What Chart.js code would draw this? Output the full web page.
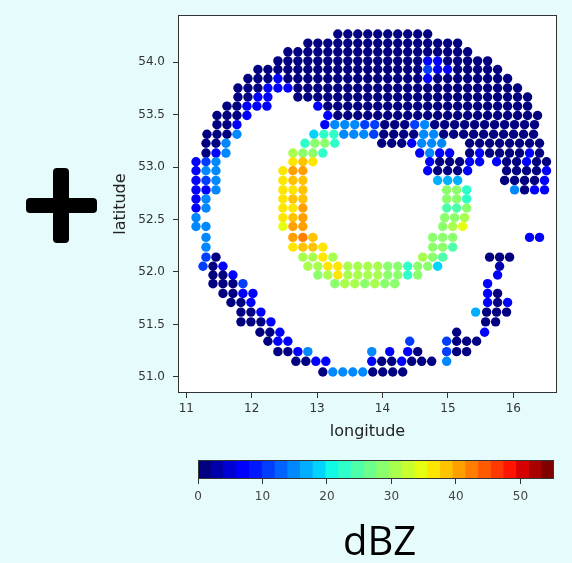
<!DOCTYPE html>
<html>
<head>
<meta charset="utf-8">
<script src="https://cdn.jsdelivr.net/npm/chart.js@4/dist/chart.umd.min.js"></script>
<style>
  html, body { margin: 0; padding: 0; }
  body { width: 572px; height: 563px; background: #e6fbfb; position: relative; overflow: hidden; font-family: "DejaVu Sans", sans-serif; }
  #map { position: absolute; left: 0; top: 0; }
  #bar { position: absolute; left: 150px; top: 450px; }
  .plus { position: absolute; background: #000; border-radius: 4px; }
  #unit { position: absolute; left: 343px; top: 516px; font: 40px "Open Sans", sans-serif; color: #000; line-height: 48px; }
</style>
</head>
<body>
<div class="plus" style="left:53px;top:168px;width:16px;height:75px"></div>
<div class="plus" style="left:26px;top:198px;width:71px;height:15px"></div>
<canvas id="map" width="572" height="563"></canvas>
<canvas id="bar" width="420" height="70"></canvas>
<div id="unit">dBZ</div>
<script>
// axis ticks
const lonTicks = [11, 12, 13, 14, 15, 16];
const latTicks = [51.0, 51.5, 52.0, 52.5, 53.0, 53.5, 54.0];
const barTicks = [0, 10, 20, 30, 40, 50];

// radar grid: longitude of column 0 and column step, latitude of each row (top to bottom)
const lon0 = 11.026;
const lonStep = 0.1527;
const rowLats = [54.268, 54.181, 54.098, 54.012, 53.929, 53.843, 53.753, 53.667, 53.580, 53.491,
                 53.404, 53.312, 53.226, 53.133, 53.050, 52.964, 52.872, 52.782, 52.696, 52.609,
                 52.517, 52.433, 52.329, 52.236, 52.141, 52.054, 51.971, 51.888, 51.795, 51.709,
                 51.617, 51.524, 51.425, 51.339, 51.240, 51.148, 51.046];

// reflectivity (dBZ) of each letter used below
const codeDbz = { a: 1, b: 3, c: 6, d: 10, e: 14, f: 16, g: 19, h: 22, i: 25, j: 28, k: 31, l: 34, m: 36, n: 38, o: 40, p: 43 };

// each row: [first column, one letter per cell]
const rowCells = [
  [[15, 'aaaaaaaaaa']],
  [[12, 'aaaaaaaaaaaaaaaa']],
  [[10, 'aaaaaaaaaaaaaaaaaaa']],
  [[9, 'aaaaaaaaaaaaaaaccaaaaa']],
  [[7, 'aaaaaaaaaaaaaaaaadccaaaaa']],
  [[6, 'aaacaaaaaaaaaaaaaacaaaaaaaa']],
  [[5, 'aaacccaaaaaaaaaaaaaaaaaaaaaaa']],
  [[5, 'aacc'], [11, 'aaaaaaaaaaaaaaaaaaaaaaaa']],
  [[3.9, 'aaccc'], [13, 'caaaaaaaaaaaaaaaaaaaaa']],
  [[2.9, 'aaac'], [14, 'caaaaaaaaaaaaaaaaaaaaa']],
  [[2.9, 'aac'], [13.7, 'ceeedd'], [19.7, 'aaadeaaaaaaaaaaa']],
  [[1.9, 'aaae'], [12.6, 'ghheee'], [18.6, 'daaaaeeaaaaaaaaaa']],
  [[1.8, 'aae'], [11.7, 'hjjh'], [19.4, 'aaaceee'], [28.2, 'aaaaaaaa']],
  [[1.8, 'ace'], [10.5, 'kjjh'], [23.2, 'cecc'], [28.2, 'acaaaaca']],
  [[0.8, 'cde'], [10.5, 'mnm'], [24.2, 'caaacc'], [30.9, 'caacaa']],
  [[0.8, 'cee'], [9.5, 'moo'], [24, 'caaac'], [31.9, 'aaaac']],
  [[0.8, 'cde'], [9.5, 'mnn'], [25, 'fff'], [31.7, 'aaaac']],
  [[0.8, 'cce'], [9.5, 'mmn'], [25.9, 'jjh'], [32.7, 'eacc']],
  [[0.8, 'ce'], [9.5, 'mnn'], [25.9, 'jjh']],
  [[0.8, 'ce'], [9.5, 'mmo'], [25.9, 'iij']],
  [[0.8, 'e'], [9.5, 'mno'], [25.7, 'jjk']],
  [[0.8, 'ee'], [9.5, 'loo'], [25.5, 'jkl']],
  [[1.8, 'e'], [10.5, 'opn'], [24.5, 'jjj'], [34.2, 'cc']],
  [[1.8, 'e'], [10.5, 'mnnm'], [24.5, 'jji']],
  [[1.8, 'da'], [11.5, 'kkmk'], [23.5, 'kji'], [30.2, 'aaa']],
  [[1.5, 'dac'], [12, 'kkmmkkkkjjhjjg'], [31.2, 'b']],
  [[2.5, 'aac'], [13, 'jkmkkkkjjhj'], [31, 'c']],
  [[2.5, 'aaad'], [14.7, 'jkkjkjj'], [30, 'c']],
  [[3.5, 'aacc'], [30, 'ca']],
  [[4.3, 'aac'], [30, 'cac']],
  [[5.3, 'aac'], [28.8, 'f'], [29.9, 'aaa']],
  [[5.3, 'aaac'], [29.8, 'aa']],
  [[7.2, 'aac'], [26.9, 'a'], [29.7, 'c']],
  [[8, 'acc'], [22.2, 'd'], [25.9, 'daaa']],
  [[9, 'aace'], [18.4, 'e'], [20.2, 'c'], [22, 'ca'], [25.9, 'daa']],
  [[10.8, 'aacc'], [18.4, 'caacaaa'], [25.9, 'e']],
  [[13.5, 'aeeeeaaaa']]
];

// discrete jet colour map, 0..vMax dBZ
const vMax = 55.2;
const nLevels = 28;
const jetR = [[0, 0], [0.35, 0], [0.66, 1], [0.89, 1], [1, 0.5]];
const jetG = [[0, 0], [0.125, 0], [0.375, 1], [0.64, 1], [0.91, 0], [1, 0]];
const jetB = [[0, 0.5], [0.11, 1], [0.34, 1], [0.65, 0], [1, 0]];

function seg(pts, t) {
  for (let i = 1; i < pts.length; i++) {
    if (t <= pts[i][0]) {
      const [x0, y0] = pts[i - 1], [x1, y1] = pts[i];
      return y0 + (y1 - y0) * (t - x0) / (x1 - x0);
    }
  }
  return pts[pts.length - 1][1];
}
function jet(t) {
  const c = p => Math.round(255 * seg(p, t));
  return `rgb(${c(jetR)},${c(jetG)},${c(jetB)})`;
}
const levelColor = i => jet(i / (nLevels - 1));
const dbzColor = v => levelColor(Math.min(nLevels - 1, Math.floor(v / vMax * nLevels)));

const cells = [];
rowCells.forEach((segs, r) => {
  segs.forEach(([c0, codes]) => {
    [...codes].forEach((ch, k) => {
      cells.push({ x: lon0 + (c0 + k) * lonStep, y: rowLats[r], v: codeDbz[ch] });
    });
  });
});

const frame = {
  id: 'frame',
  beforeDatasetsDraw(chart, args, opts) {
    if (!opts.fill) return;
    const { ctx, chartArea: a } = chart;
    ctx.save();
    ctx.fillStyle = opts.fill;
    ctx.fillRect(a.left, a.top, a.right - a.left, a.bottom - a.top);
    ctx.restore();
  },
  afterDraw(chart, args, opts) {
    const { ctx, chartArea: a } = chart;
    ctx.save();
    ctx.strokeStyle = opts.color;
    ctx.lineWidth = 1;
    ctx.strokeRect(Math.round(a.left) + 0.5, Math.round(a.top) + 0.5, Math.round(a.right - a.left) - 1, Math.round(a.bottom - a.top) - 1);
    ctx.restore();
  }
};

const tickFont = { family: 'DejaVu Sans', size: 12 };
const titleFont = { family: 'DejaVu Sans', size: 16 };

new Chart(document.getElementById('map'), {
  type: 'scatter',
  data: {
    datasets: [{
      data: cells,
      pointRadius: 4.7,
      pointBorderWidth: 0,
      pointBackgroundColor: cells.map(p => dbzColor(p.v)),
      pointHoverRadius: 4.7
    }]
  },
  options: {
    responsive: false,
    animation: false,
    events: [],
    layout: { padding: { left: 100, top: 4, right: 15, bottom: 120 } },
    plugins: { legend: { display: false }, tooltip: { enabled: false }, frame: { color: '#333', fill: '#fff' } },
    scales: {
      x: {
        type: 'linear', min: 10.873, max: 16.668,
        afterBuildTicks: s => { s.ticks = lonTicks.map(v => ({ value: v })); },
        afterFit: s => { s.height = 50; },
        ticks: { font: tickFont, color: '#333', padding: 4, maxRotation: 0, callback: v => String(v) },
        grid: { drawOnChartArea: false, tickLength: 5, tickColor: '#333' },
        border: { display: false },
        title: { display: true, text: 'longitude', font: titleFont, color: '#222', padding: { top: 0, bottom: 2 } }
      },
      y: {
        type: 'linear', min: 50.846, max: 54.447,
        afterBuildTicks: s => { s.ticks = latTicks.map(v => ({ value: v })); },
        afterFit: s => { s.width = 78; },
        ticks: { font: tickFont, color: '#333', padding: 8, callback: v => v.toFixed(1) },
        grid: { drawOnChartArea: false, tickLength: 5, tickColor: '#333' },
        border: { display: false },
        title: { display: true, text: 'latitude', font: titleFont, color: '#222', padding: { top: 11, bottom: 0 } }
      }
    }
  },
  plugins: [frame]
});

// colour bar: one floating bar per level
const barSets = [];
for (let i = 0; i < nLevels; i++) {
  barSets.push({
    data: [[i * vMax / nLevels, (i + 1) * vMax / nLevels]],
    backgroundColor: levelColor(i),
    borderWidth: 0,
    barPercentage: 1,
    categoryPercentage: 1,
    grouped: false
  });
}

new Chart(document.getElementById('bar'), {
  type: 'bar',
  data: { labels: ['dBZ'], datasets: barSets },
  options: {
    indexAxis: 'y',
    responsive: false,
    animation: false,
    events: [],
    layout: { padding: { left: 48, top: 10, right: 16, bottom: 0 } },
    plugins: { legend: { display: false }, tooltip: { enabled: false }, frame: { color: '#333' } },
    scales: {
      y: { display: false },
      x: {
        type: 'linear', min: 0, max: vMax,
        afterBuildTicks: s => { s.ticks = barTicks.map(v => ({ value: v })); },
        afterFit: s => { s.height = 41; },
        ticks: { font: tickFont, color: '#444', padding: 6, maxRotation: 0 },
        grid: { drawOnChartArea: false, tickLength: 5, tickColor: '#333' },
        border: { display: false }
      }
    }
  },
  plugins: [frame]
});
</script>
</body>
</html>
